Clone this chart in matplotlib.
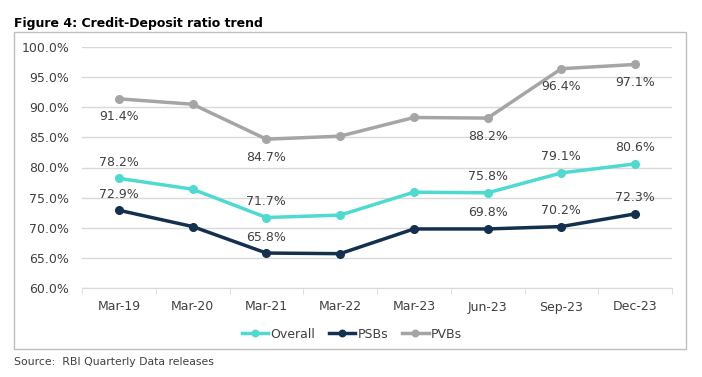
import matplotlib
matplotlib.use("Agg")
from matplotlib import pyplot as plt
from matplotlib.patches import Rectangle

categories = ["Mar-19", "Mar-20", "Mar-21", "Mar-22", "Mar-23", "Jun-23", "Sep-23", "Dec-23"]
overall = [78.2, 76.4, 71.7, 72.1, 75.9, 75.8, 79.1, 80.6]
psbs = [72.9, 70.2, 65.8, 65.7, 69.8, 69.8, 70.2, 72.3]
pvbs = [91.4, 90.5, 84.7, 85.2, 88.3, 88.2, 96.4, 97.1]
# which points carry a data label
labelled = [0, 2, 5, 6, 7]

c_overall = "#4ED9D1"
c_psb = "#14304F"
c_pvb = "#A5A5A5"
txt = "#404040"

plt.rcParams['font.family'] = ['DejaVu Sans']

fig = plt.figure(figsize=(7.02, 3.77), dpi=100)
ax = fig.add_axes([82 / 702, 1 - 288 / 377, 590 / 702, 241 / 377])

x = range(len(categories))
ax.plot(x, overall, color=c_overall, lw=2.5, marker='o', ms=5.5, label="Overall")
ax.plot(x, psbs, color=c_psb, lw=2.5, marker='o', ms=5.5, label="PSBs")
ax.plot(x, pvbs, color=c_pvb, lw=2.5, marker='o', ms=5.5, label="PVBs")

for i in labelled:
    ax.annotate(f"{overall[i]:.1f}%", (i, overall[i]), xytext=(0, 11.5), textcoords='offset points',
                ha='center', va='center', fontsize=9, color=txt)
    ax.annotate(f"{psbs[i]:.1f}%", (i, psbs[i]), xytext=(0, 11.5), textcoords='offset points',
                ha='center', va='center', fontsize=9, color=txt)
    ax.annotate(f"{pvbs[i]:.1f}%", (i, pvbs[i]), xytext=(0, -13), textcoords='offset points',
                ha='center', va='center', fontsize=9, color=txt)

ax.set_xlim(-0.5, 7.5)
ax.set_ylim(60, 100)
ax.set_yticks(range(60, 101, 5))
ax.set_yticklabels([f"{v:.1f}%" for v in range(60, 101, 5)])
ax.set_xticks(list(x))
ax.set_xticklabels(categories)
ax.set_xticks([i + 0.5 for i in range(-1, 8)], minor=True)
ax.tick_params(axis='x', which='major', length=0, pad=9, labelsize=9, labelcolor=txt)
ax.tick_params(axis='x', which='minor', length=4, color="#D9D9D9")
ax.tick_params(axis='y', length=0, pad=9, labelsize=9, labelcolor=txt)
ax.grid(axis='y', color="#D9D9D9", lw=1)
ax.set_axisbelow(True)
for s in ['top', 'right', 'left']:
    ax.spines[s].set_visible(False)
ax.spines['bottom'].set_color("#D9D9D9")

fig.legend(loc='center', bbox_to_anchor=(352 / 702, 1 - 334 / 377), ncol=3, frameon=False,
           fontsize=9, labelcolor=txt, handlelength=2.1, handletextpad=0.2, columnspacing=1.1,
           markerscale=0.85)

fig.patches.append(Rectangle((14 / 702, 1 - 349 / 377), 672 / 702, 317 / 377,
                             transform=fig.transFigure, fill=False, ec="#BFBFBF", lw=1))

fig.text(14 / 702, 1 - 23 / 377, "Figure 4: Credit-Deposit ratio trend", fontsize=9,
         fontweight='bold', color="black", va='center')
fig.text(14 / 702, 1 - 362 / 377, "Source:  RBI Quarterly Data releases", fontsize=7.8,
         color=txt, va='center')

fig.savefig("out.png", dpi=100)
